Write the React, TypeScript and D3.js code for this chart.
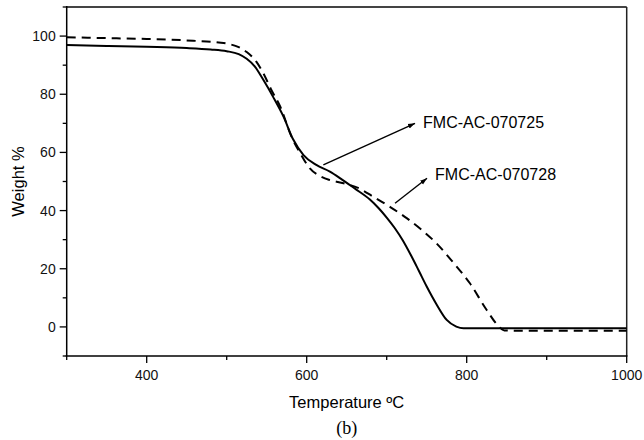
import React from "react";
import * as d3 from "d3";

const temp725 = [300, 350, 400, 450, 480, 500, 515, 525, 535, 545, 558, 571, 583, 596, 612, 629, 642, 660, 679, 690, 700, 710, 720, 730, 740, 750, 762, 775, 787, 796, 850, 1000];
const weight725 = [96.9, 96.6, 96.3, 95.9, 95.4, 94.8, 93.8, 92.2, 89.6, 85.3, 79.1, 72.3, 64.5, 59.1, 55.7, 53.4, 51.1, 47.6, 43.8, 40.8, 37.6, 34.0, 29.8, 24.8, 19.4, 13.9, 7.9, 2.4, 0.1, -0.5, -0.5, -0.5];

const temp728 = [300, 350, 400, 458, 490, 504, 515, 525, 537, 545, 556, 567, 581, 592, 604, 617, 630, 646, 665, 683, 704, 725, 744, 762, 783, 804, 825, 840, 847, 870, 1000];
const weight728 = [99.6, 99.3, 99.0, 98.4, 97.8, 97.2, 96.2, 94.5, 91.2, 87.6, 81.4, 75.7, 65.4, 59.7, 54.5, 51.8, 50.4, 49.4, 47.7, 44.8, 41.3, 37.4, 33.3, 28.8, 22.2, 15.0, 5.8, 0.2, -1.2, -1.3, -1.3];

const xTicks = [400, 600, 800, 1000];
const xMinorTicks = [300, 500, 700, 900];
const yTicks = [0, 20, 40, 60, 80, 100];
const yMinorTicks = [-10, 10, 30, 50, 70, 90, 110];

const labels = ["FMC-AC-070725", "FMC-AC-070728"];
// arrow annotations in data units: [startT, startW, endT, endW, textT, textW]
const annotations = [
  [620.8, 55.7, 735.4, 70.0, 745.5, 68.3],
  [710.4, 42.5, 750.4, 51.1, 760.5, 50.5],
];

const W = 644, H = 440;
const margin = { left: 66.7, right: 644 - 626.7, top: 7, bottom: 440 - 356 };

export default function App() {
  const x = d3.scaleLinear().domain([300, 1000]).range([margin.left, W - margin.right]);
  const y = d3.scaleLinear().domain([-10, 110]).range([H - margin.bottom, margin.top]);
  const line = d3
    .line<[number, number]>()
    .x((d) => x(d[0]))
    .y((d) => y(d[1]))
    .curve(d3.curveMonotoneX);
  const d725 = line(temp725.map((t, i) => [t, weight725[i]]) as [number, number][]) || "";
  const d728 = line(temp728.map((t, i) => [t, weight728[i]]) as [number, number][]) || "";
  const font = "'Liberation Sans', Arial, sans-serif";
  const x0 = x(300), x1 = x(1000), yb = y(-10), yt = y(110);

  return (
    <div style={{ position: "absolute", left: 0, top: 0 }}>
      <svg width={W} height={H} style={{ display: "block", background: "#fff" }}>
        <defs>
          <marker id="ah" viewBox="0 0 10 10" refX="10" refY="5" markerWidth="7" markerHeight="7" orient="auto" markerUnits="userSpaceOnUse">
            <path d="M0,1.5 L10,5 L0,8.5 Z" fill="#000" />
          </marker>
        </defs>
        <rect x={0} y={0} width={W} height={H} fill="#fff" />
        {/* frame */}
        <line x1={x0} x2={x1} y1={yt} y2={yt} stroke="#444" strokeWidth={2} />
        <line x1={x1} x2={x1} y1={yt} y2={yb} stroke="#222" strokeWidth={1.5} />
        <line x1={x0} x2={x0} y1={yt - 1} y2={yb} stroke="#000" strokeWidth={1.5} />
        <line x1={x0 - 1} x2={x1 + 0.75} y1={yb} y2={yb} stroke="#000" strokeWidth={1.5} />
        {/* x ticks */}
        {xTicks.map((t) => (
          <g key={"xt" + t}>
            <line x1={x(t)} x2={x(t)} y1={yb} y2={yb + 7} stroke="#000" strokeWidth={1.3} />
            <text x={x(t)} y={379.5} textAnchor="middle" fontFamily={font} fontSize={14} fill="#111">{t}</text>
          </g>
        ))}
        {xMinorTicks.map((t) => (
          <line key={"xm" + t} x1={x(t)} x2={x(t)} y1={yb} y2={yb + 4} stroke="#000" strokeWidth={1.3} />
        ))}
        {/* y ticks */}
        {yTicks.map((t) => (
          <g key={"yt" + t}>
            <line x1={x0 - 7} x2={x0} y1={y(t)} y2={y(t)} stroke="#000" strokeWidth={1.3} />
            <text x={x0 - 11} y={y(t) + 5} textAnchor="end" fontFamily={font} fontSize={14} fill="#111">{t}</text>
          </g>
        ))}
        {yMinorTicks.map((t) => (
          <line key={"ym" + t} x1={x0 - 4} x2={x0} y1={y(t)} y2={y(t)} stroke="#000" strokeWidth={1.3} />
        ))}
        {/* curves */}
        <path d={d728} fill="none" stroke="#000" strokeWidth={2} strokeDasharray="9,6" />
        <path d={d725} fill="none" stroke="#000" strokeWidth={2} />
        {/* annotations */}
        {annotations.map((a, i) => (
          <g key={"an" + i}>
            <line x1={x(a[0])} y1={y(a[1])} x2={x(a[2])} y2={y(a[3])} stroke="#000" strokeWidth={1.4} markerEnd="url(#ah)" />
            <text x={x(a[4])} y={y(a[5])} fontFamily={font} fontSize={16} fill="#000">{labels[i]}</text>
          </g>
        ))}
        {/* axis titles */}
        <text x={(x0 + x1) / 2} y={408} textAnchor="middle" fontFamily={font} fontSize={16.5} fill="#000">Temperature ºC</text>
        <text transform={`translate(24,${(yt + yb) / 2}) rotate(-90)`} textAnchor="middle" fontFamily={font} fontSize={16.5} fill="#000">Weight %</text>
        <text x={(x0 + x1) / 2} y={434} textAnchor="middle" fontFamily="'Liberation Serif', 'Times New Roman', serif" fontSize={18} fill="#000">(b)</text>
      </svg>
    </div>
  );
}
